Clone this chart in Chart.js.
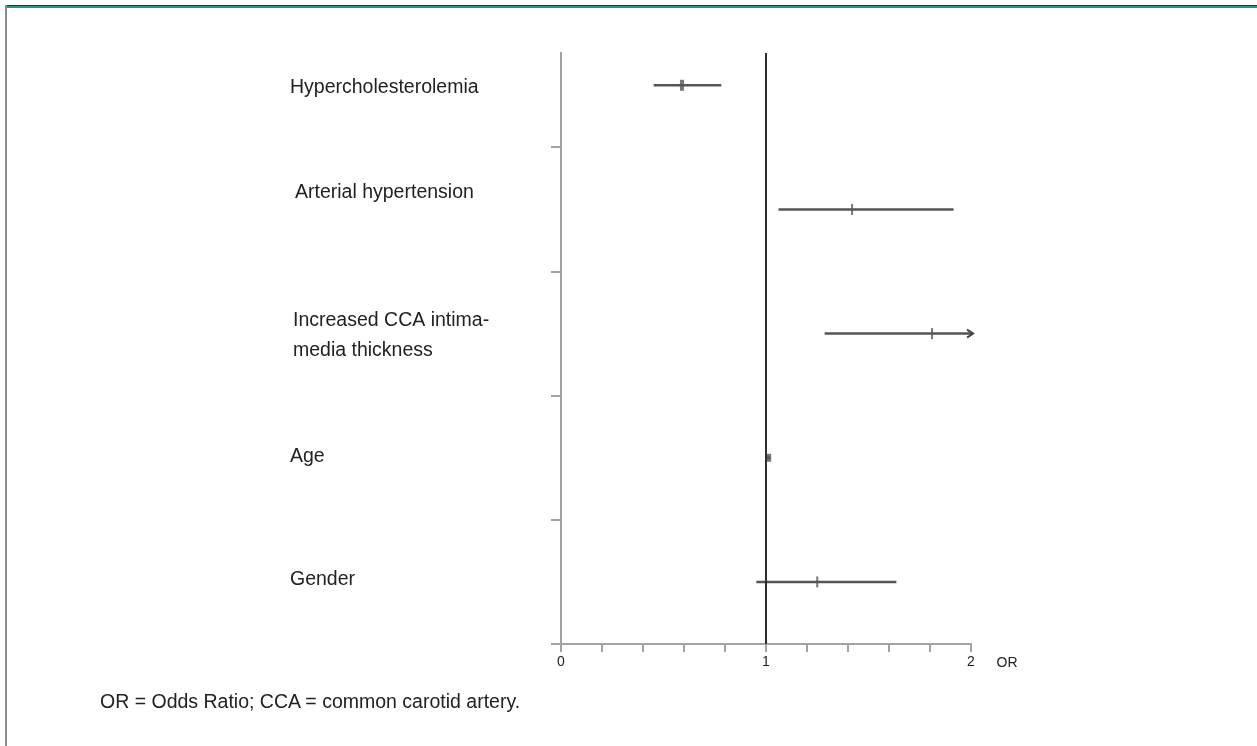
<!DOCTYPE html>
<html>
<head>
<meta charset="utf-8">
<script src="https://cdn.jsdelivr.net/npm/chart.js@4.4.0/dist/chart.umd.min.js"></script>
<style>
  body { margin: 0; background: #fff; }
  #wrap { position: relative; width: 1257px; height: 746px; overflow: hidden; }
  canvas { position: absolute; left: 0; top: 0; }
  .rule-dark { position: absolute; left: 5px; top: 5px; width: 1252px; height: 1px; background: #24363a; }
  .rule-green { position: absolute; left: 5px; top: 6px; width: 1252px; height: 2px; background: #1e9b82; }
  .rule-left { position: absolute; left: 5px; top: 5px; width: 2px; height: 741px; background: #8c8c8c; }
  #note { position: absolute; left: 100px; top: 690px; font: 19.5px "Liberation Sans", Arial, sans-serif; color: #222; line-height: 22px; white-space: nowrap; }
</style>
</head>
<body>
<div id="wrap">
  <canvas id="forest" width="1257" height="746"></canvas>
  <div class="rule-dark"></div>
  <div class="rule-green"></div>
  <div class="rule-left"></div>
  <div id="note"></div>
</div>
<script>
// data (top row first)
const categories = ['Hypercholesterolemia', 'Arterial hypertension', ['Increased CCA intima-', 'media thickness'], 'Age', 'Gender']
const rowPos = [4.5, 3.5, 2.5, 1.5, 0.5]
const oddsRatio = [0.59, 1.42, 1.81, 1.013, 1.25]
const ciLow = [0.452, 1.061, 1.286, 1.005, 0.953]
const ciHigh = [0.782, 1.915, 2.01, 1.02, 1.636]
const ciArrow = [false, false, true, false, false]
const xTicks = [0, 1, 2]
const yTicks = [0, 1, 2, 3, 4]
const xTitle = 'OR'
const refValue = 1
const yMax = 4.76
const footnote = 'OR = Odds Ratio; CCA = common carotid artery.'

document.getElementById('note').textContent = footnote

const axisGrey = '#a3a3a3'
const textColor = '#222'
const labelFont = '19.5px "Liberation Sans", Arial, sans-serif'

// CI lines, one dataset per row
const ciSets = categories.map((c, i) => ({
  type: 'scatter',
  showLine: true,
  data: [{x: ciLow[i], y: rowPos[i]}, {x: ciHigh[i], y: rowPos[i]}],
  borderColor: '#555',
  borderWidth: 2.5,
  pointRadius: 0,
  clip: false
}))

const labelPlugin = {
  id: 'forestLabels',
  afterDraw(chart, args, opts) {
    const ctx = chart.ctx
    const x = chart.scales.x
    const y = chart.scales.y
    ctx.save()
    ctx.fillStyle = textColor
    ctx.font = labelFont
    ctx.textAlign = 'left'
    ctx.textBaseline = 'middle'
    categories.forEach((label, i) => {
      const lines = Array.isArray(label) ? label : [label]
      const cy = y.getPixelForValue(rowPos[i]) + opts.dy[i]
      lines.forEach((line, k) => {
        ctx.fillText(line, opts.left[i], cy + (k - (lines.length - 1) / 2) * 30)
      })
    })
    // axis name next to the last tick
    ctx.font = '14px "Liberation Sans", Arial, sans-serif'
    ctx.textAlign = 'center'
    ctx.fillText(xTitle, x.getPixelForValue(xTicks[xTicks.length - 1]) + 36, x.bottom - 30 + 19)
    ctx.restore()
  }
}

const arrowPlugin = {
  id: 'ciArrows',
  afterDatasetsDraw(chart) {
    const ctx = chart.ctx
    const x = chart.scales.x
    const y = chart.scales.y
    ctx.save()
    ctx.strokeStyle = '#444'
    ctx.lineWidth = 2
    ciArrow.forEach((on, i) => {
      if (!on) return
      const px = x.getPixelForValue(ciHigh[i])
      const py = y.getPixelForValue(rowPos[i])
      ctx.beginPath()
      ctx.moveTo(px - 6, py - 4)
      ctx.lineTo(px, py)
      ctx.lineTo(px - 6, py + 4)
      ctx.stroke()
    })
    ctx.restore()
  }
}

new Chart(document.getElementById('forest'), {
  type: 'scatter',
  data: {
    datasets: [
      {
        // reference line at OR = 1
        showLine: true,
        data: [{x: refValue, y: 0}, {x: refValue, y: yMax}],
        borderColor: '#2e2e2e',
        borderWidth: 2,
        pointRadius: 0
      },
      ...ciSets,
      {
        // point estimates as small vertical bars
        data: oddsRatio.map((v, i) => ({x: v, y: rowPos[i]})),
        pointStyle: 'line',
        rotation: 90,
        pointRadius: [5.5, 5.5, 5.5, 4, 5.5],
        borderWidth: [4, 2, 2, 5, 2],
        borderColor: '#777',
        clip: false
      }
    ]
  },
  options: {
    responsive: false,
    animation: false,
    events: [],
    layout: {padding: {left: 549, top: 53, right: 286, bottom: 72}},
    plugins: {
      legend: {display: false},
      tooltip: {enabled: false},
      forestLabels: {
        left: [290, 295, 293, 290, 290],
        dy: [2, -17, 2, -1, -2]
      }
    },
    scales: {
      x: {
        type: 'linear',
        min: 0,
        max: 2,
        border: {color: axisGrey, width: 2},
        grid: {drawOnChartArea: false, tickLength: 8, color: axisGrey, lineWidth: 2},
        ticks: {
          stepSize: 0.2,
          autoSkip: false,
          maxRotation: 0,
          padding: 2,
          color: textColor,
          font: {family: '"Liberation Sans", Arial, sans-serif', size: 14},
          callback: (v) => {
            const r = Math.round(v)
            return Math.abs(v - r) < 1e-9 && xTicks.includes(r) ? String(r) : ''
          }
        },
        afterFit: (s) => { s.height = 30 }
      },
      y: {
        type: 'linear',
        min: 0,
        max: yMax,
        border: {color: axisGrey, width: 2},
        grid: {drawOnChartArea: false, tickLength: 10, color: axisGrey, lineWidth: 2},
        ticks: {display: false},
        afterBuildTicks: (s) => { s.ticks = yTicks.map(v => ({value: v})) },
        afterFit: (s) => { s.width = 12 }
      }
    }
  },
  plugins: [labelPlugin, arrowPlugin]
})
</script>
</body>
</html>
